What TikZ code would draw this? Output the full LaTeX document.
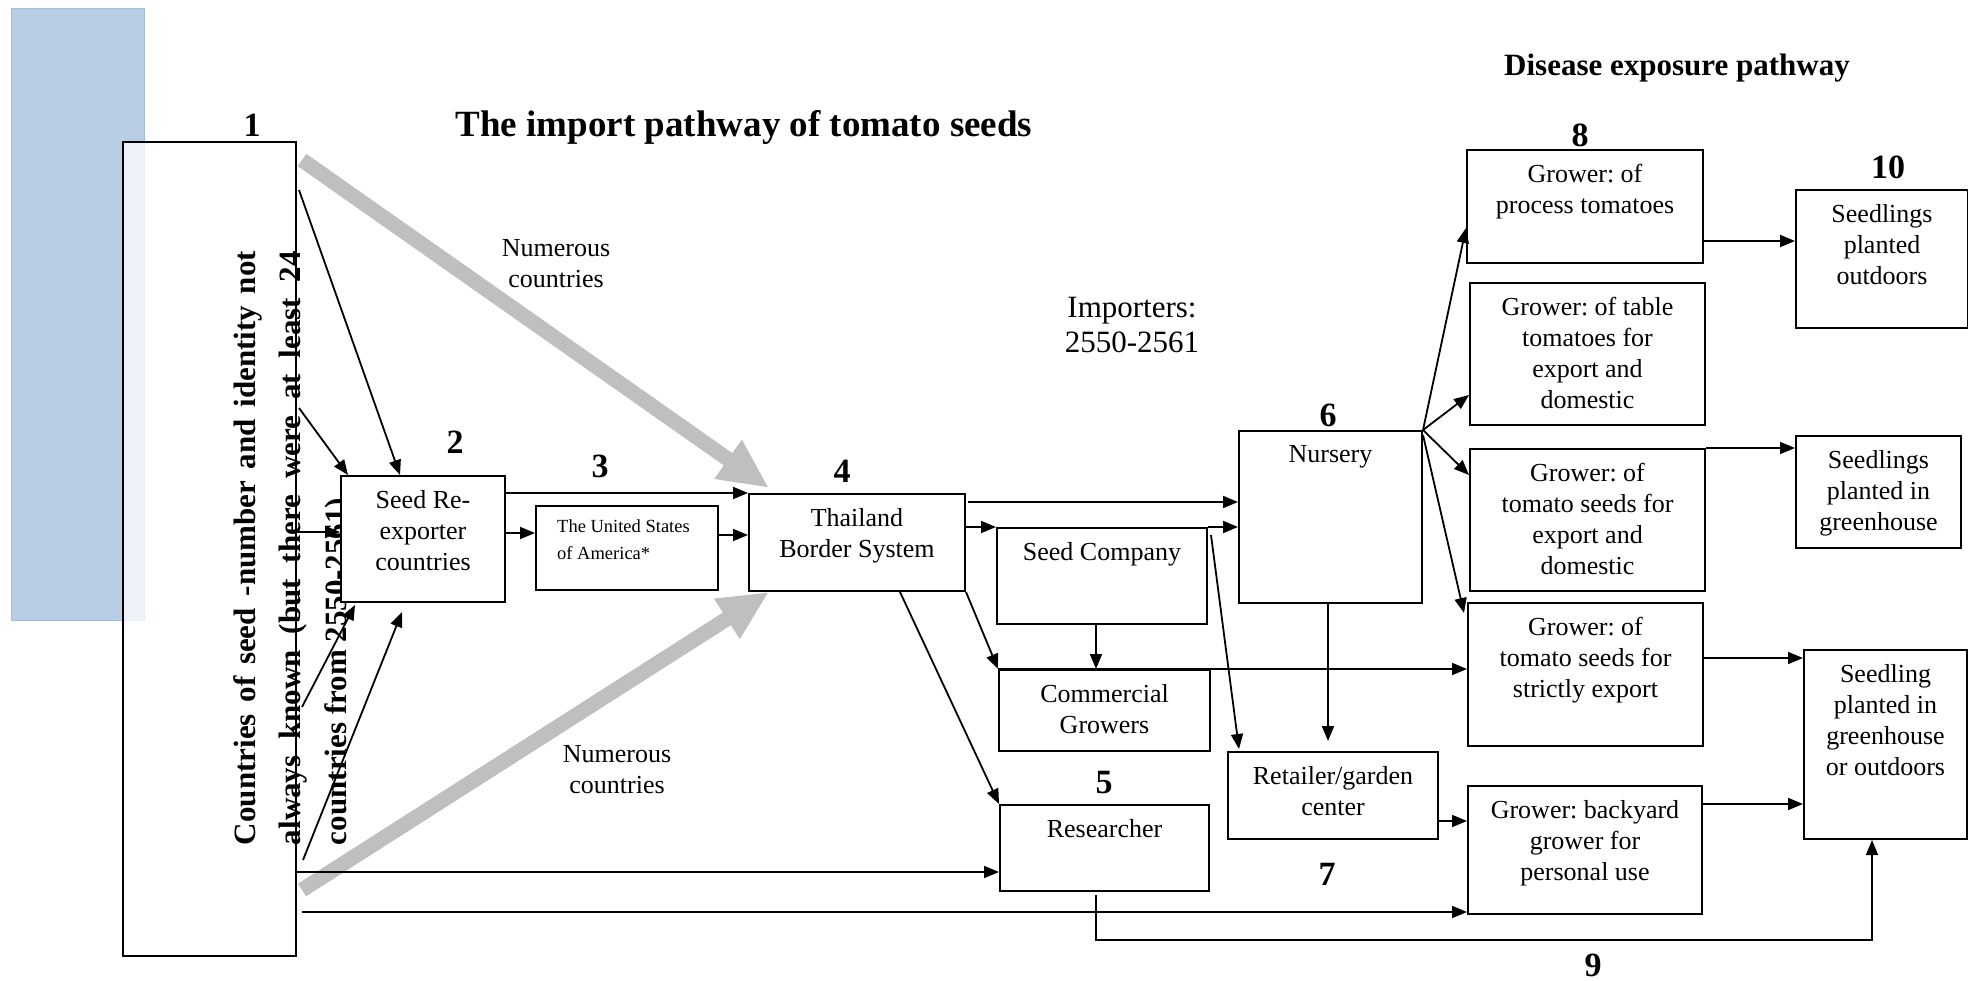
\documentclass[tikz,border=0pt]{standalone}
\usepackage{fontspec}
\setmainfont{Liberation Serif}
\usetikzlibrary{arrows.meta,positioning,calc}
\frenchspacing
\definecolor{greyband}{HTML}{BFBFBF}
\definecolor{sidebar}{HTML}{B9CDE5}
\definecolor{sidebarline}{HTML}{A3BDDD}
\newcommand{\boxfont}{\fontsize{26}{31}\selectfont}
\tikzset{
    pathbox/.style 2 args={draw, line width=2pt, fill=white, anchor=north west, inner sep=0pt, minimum width=#1, minimum height=#2},
    intext/.style={anchor=north, yshift=-15pt, font=\boxfont, align=center, inner sep=0pt},
    patharrow/.style={-{Triangle[length=15pt,width=12pt]}, line width=1.8pt},
    pathgrey/.style={-{Triangle[length=50pt,width=44pt]}, line width=15pt, draw=greyband},
    pathnum/.style={font=\fontsize{34}{34}\selectfont\bfseries, inner sep=0pt},
    pathnote/.style={align=center, font=\boxfont, inner sep=0pt}
}
\begin{document}
\begin{tikzpicture}[x=1pt, y=-1pt]
    \useasboundingbox (0,0) rectangle (1968,981);
    \filldraw[fill=sidebar, draw=sidebarline, line width=1pt] (11,9) rectangle (144,620);

    % import side
    \node[pathbox={173pt}{814pt}, fill opacity=0.75] (b1) at (122,141) {};
    \node[rotate=90, text width=594pt, align=justify, inner sep=0pt,
          font=\fontsize{31}{45.5}\selectfont\bfseries] (b1text) at (293,548)
        {Countries of seed -number and identity not\linebreak always known (but there were at least 24\linebreak countries from 2550-2561)};
    \node[pathbox={164pt}{126pt}, label={[intext]north:Seed Re-\\exporter\\countries}] (b2) at (340,475) {};
    \node[pathbox={182pt}{84pt}, label={[intext, anchor=north west, xshift=-70pt, yshift=1pt,
          font=\fontsize{18.5}{27}\selectfont, align=left]north:The United States\\of America*}] (usa) at (535,505) {};
    \node[pathbox={216pt}{97pt}, label={[intext]north:Thailand\\Border System}] (thai) at (748,493) {};
    \node[pathbox={210pt}{96pt}, label={[intext]north:Seed Company}] (seedco) at (996,527) {};
    \node[pathbox={211pt}{81pt}, label={[intext]north:Commercial\\Growers}] (comm) at (998,669) {};
    \node[pathbox={183pt}{172pt}, label={[intext]north:Nursery}] (nursery) at (1238,430) {};
    \node[pathbox={209pt}{86pt}, label={[intext]north:Researcher}] (research) at (999,804) {};
    \node[pathbox={210pt}{87pt}, label={[intext]north:Retailer/garden\\center}] (retail) at (1227,751) {};

    % exposure side
    \node[pathbox={236pt}{113pt}, label={[intext]north:{Grower: of\\process tomatoes}}] (process) at (1466,149) {};
    \node[pathbox={235pt}{142pt}, label={[intext]north:{Grower: of table\\tomatoes for\\export and\\domestic}}] (table) at (1469,282) {};
    \node[pathbox={235pt}{142pt}, label={[intext]north:{Grower: of\\tomato seeds for\\export and\\domestic}}] (expdom) at (1469,448) {};
    \node[pathbox={235pt}{143pt}, label={[intext]north:{Grower: of\\tomato seeds for\\strictly export}}] (strict) at (1467,602) {};
    \node[pathbox={234pt}{128pt}, label={[intext]north:{Grower: backyard\\grower for\\personal use}}] (backyard) at (1467,785) {};
    \node[pathbox={172pt}{138pt}, label={[intext]north:Seedlings\\planted\\outdoors}] (outdoor) at (1795,189) {};
    \node[pathbox={165pt}{112pt}, label={[intext]north:Seedlings\\planted in\\greenhouse}] (gh) at (1795,435) {};
    \node[pathbox={163pt}{189pt}, label={[intext]north:Seedling\\planted in\\greenhouse\\or outdoors}] (ghout) at (1803,649) {};

    % headings and notes
    \node[font=\fontsize{37}{37}\selectfont\bfseries, inner sep=0pt] (title) at (744,127) {The import pathway of tomato seeds};
    \node[font=\fontsize{31}{31}\selectfont\bfseries, inner sep=0pt] (disease) at (1677,68) {Disease exposure pathway};
    \node[pathnote, font=\fontsize{31}{35}\selectfont] (importers) at (1132,325) {Importers:\\2550-2561};
    \node[pathnote] (numup) at (556,264) {Numerous\\countries};
    \node[pathnote] (numlow) at (617,770) {Numerous\\countries};

    \node[pathnum] (n1) at (252,125) {1};
    \node[pathnum] (n2) at (455,442) {2};
    \node[pathnum] (n3) at (600,466) {3};
    \node[pathnum] (n4) at (842,471) {4};
    \node[pathnum] (n5) at (1104,783) {5};
    \node[pathnum] (n6) at (1328,415) {6};
    \node[pathnum] (n7) at (1327,874) {7};
    \node[pathnum] (n8) at (1580,135) {8};
    \node[pathnum] (n9) at (1593,965) {9};
    \node[pathnum] (n10) at (1888,167) {10};

    % grey bands
    \draw[pathgrey] ($(b1.north east)+(5,19)$) -- ($(thai.north west)+(21,-5)$);
    \draw[pathgrey] ($(b1.north east)+(5,749)$) -- ($(thai.south west)+(21,0)$);

    % countries to re-exporters
    \draw[patharrow] ($(b1.north east)+(2,49)$) -- ($(b2.north west)+(60,0)$);
    \draw[patharrow] ($(b1.north east)+(2,267)$) -- ($(b2.north west)+(8,0)$);
    \draw[patharrow] ($(b1.north east)+(0,391)$) -- ($(b2.north west)+(0,57)$);
    \draw[patharrow] ($(b1.north east)+(5,566)$) -- ($(b2.south west)+(15,2)$);
    \draw[patharrow] ($(b1.north east)+(6,719)$) -- ($(b2.south west)+(62,9)$);

    \draw[patharrow] ($(b2.north east)+(0,18)$) -- (thai.north west);
    \draw[patharrow] ($(b2.north east)+(0,58)$) -- ($(usa.north west)+(0,28)$);
    \draw[patharrow] ($(usa.north east)+(0,30)$) -- ($(thai.north west)+(0,42)$);

    % border onwards
    \draw[patharrow] ($(thai.north east)+(2,9)$) -- ($(nursery.north west)+(0,72)$);
    \draw[patharrow] ($(thai.north east)+(0,34)$) -- (seedco.north west);
    \draw[patharrow] (seedco.north east) -- ($(nursery.north west)+(0,97)$);
    \draw[patharrow] ($(seedco.south west)+(100,0)$) -- ($(comm.north west)+(98,0)$);
    \draw[patharrow] (thai.south east) -- (comm.north west);
    \draw[patharrow] (comm.north west) -- ($(strict.north west)+(0,67)$);
    \draw[patharrow] ($(seedco.north east)+(3,8)$) -- ($(retail.north west)+(12,-2)$);
    \draw[patharrow] ($(nursery.south west)+(90,0)$) -- ($(retail.north west)+(101,-10)$);
    \draw[patharrow] ($(thai.south west)+(152,0)$) -- (research.north west);
    \draw[patharrow] ($(b1.north east)+(0,731)$) -- ($(research.north west)+(0,68)$);
    \draw[patharrow] ($(b1.north east)+(5,771)$) -- ($(backyard.north west)+(0,127)$);
    \draw[patharrow] ($(research.south west)+(97,3)$) -- ++(0,45) -| (ghout.south west -| {$(ghout.south west)+(69,0)$});
    \draw[patharrow] ($(retail.north east)+(0,70)$) -- ($(backyard.north west)+(0,36)$);

    % nursery fan
    \draw[patharrow] (nursery.north east) -- ($(process.north west)+(0,79)$);
    \draw[patharrow] (nursery.north east) -- ($(table.north west)+(0,113)$);
    \draw[patharrow] (nursery.north east) -- ($(expdom.north west)+(0,27)$);
    \draw[patharrow] ($(nursery.north east)+(0,5)$) -- ($(strict.north west)+(-3,11)$);

    % to the seedlings
    \draw[patharrow] ($(process.north east)+(0,92)$) -- ($(outdoor.north west)+(0,52)$);
    \draw[patharrow] (expdom.north east) -- ($(gh.north west)+(0,13)$);
    \draw[patharrow] ($(strict.north east)+(0,56)$) -- ($(ghout.north west)+(0,9)$);
    \draw[patharrow] ($(backyard.north east)+(0,19)$) -- ($(ghout.north west)+(0,155)$);
\end{tikzpicture}
\end{document}
